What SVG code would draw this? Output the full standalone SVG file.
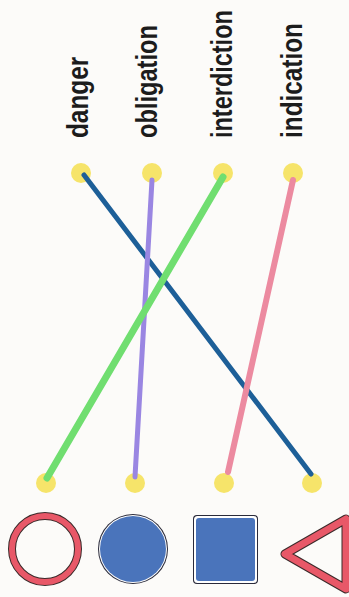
<svg xmlns="http://www.w3.org/2000/svg" width="349" height="597" viewBox="0 0 349 597">
  <style>
    .lbl { font-family: "Liberation Sans", Arial, sans-serif; font-size: 29px; font-weight: bold; fill: #1c1c1c; }
    .dot { fill: #f6e46a; }
    .line { fill: none; stroke-linecap: round; }
    .edge { fill: none; stroke: #3a2a2a; }
    .red { fill: none; stroke: #e85868; }
    .blue { fill: #4a74bb; }
  </style>
  <rect width="349" height="597" fill="#fcfbf9"/>

  <g id="label-danger">
    <text class="lbl" transform="translate(88,138) rotate(-90) scale(0.84,1)">danger</text>
  </g>
  <g id="label-obligation">
    <text class="lbl" transform="translate(157,138) rotate(-90) scale(0.815,1)">obligation</text>
  </g>
  <g id="label-interdiction">
    <text class="lbl" transform="translate(232,138) rotate(-90) scale(0.81,1)">interdiction</text>
  </g>
  <g id="label-indication">
    <text class="lbl" transform="translate(302,138) rotate(-90) scale(0.84,1)">indication</text>
  </g>

  <g id="top-dots">
    <circle class="dot" cx="81" cy="173" r="10"/>
    <circle class="dot" cx="152" cy="173" r="10"/>
    <circle class="dot" cx="223" cy="173" r="10"/>
    <circle class="dot" cx="293" cy="173" r="10"/>
  </g>
  <g id="bottom-dots">
    <circle class="dot" cx="46" cy="483" r="10"/>
    <circle class="dot" cx="135" cy="483" r="10"/>
    <circle class="dot" cx="224" cy="483" r="10"/>
    <circle class="dot" cx="312" cy="483" r="10"/>
  </g>

  <g id="connectors">
    <line class="line" x1="84" y1="175" x2="311" y2="474" stroke="#1d5f98" stroke-width="5"/>
    <line class="line" x1="152" y1="180" x2="135" y2="477" stroke="#9a86e2" stroke-width="5"/>
    <line class="line" x1="223" y1="177" x2="47" y2="478" stroke="#70de70" stroke-width="7"/>
    <line class="line" x1="293" y1="180" x2="228" y2="472" stroke="#ec8aa0" stroke-width="6"/>
  </g>

  <g id="shape-ring">
    <circle class="edge" cx="45" cy="549" r="33" stroke-width="8"/>
    <circle class="red" cx="45" cy="549" r="33" stroke-width="6"/>
  </g>
  <g id="shape-disc">
    <circle cx="133" cy="549" r="35" fill="#2a2a3a"/>
    <circle cx="133" cy="549" r="34" fill="#ffffff"/>
    <circle class="blue" cx="133" cy="549" r="33"/>
  </g>
  <g id="shape-square">
    <rect x="193" y="515" width="65" height="69" rx="4" fill="#2a2a3a"/>
    <rect x="194" y="516" width="63" height="67" rx="3.5" fill="#ffffff"/>
    <rect class="blue" x="196" y="518" width="59" height="63" rx="3"/>
  </g>
  <g id="shape-triangle">
    <polygon class="edge" points="285,554 346,519 346,589" stroke-width="9" stroke-linejoin="round"/>
    <polygon class="red" points="285,554 346,519 346,589" stroke-width="7" stroke-linejoin="round"/>
  </g>
</svg>
